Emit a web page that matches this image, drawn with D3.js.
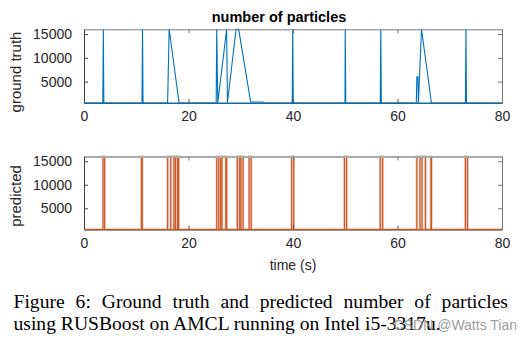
<!DOCTYPE html>
<html>
<head>
<meta charset="utf-8">
<script src="https://cdn.jsdelivr.net/npm/d3@7/dist/d3.min.js"></script>
<style>
  html, body { margin: 0; padding: 0; background: #fff; }
  svg { display: block; }
</style>
</head>
<body>
<svg id="chart" width="532" height="346"></svg>
<script>
// ---------------- data ----------------
const chartTitle = "number of particles";
const xLabel = "time (s)";
const yLabelTop = "ground truth";
const yLabelBottom = "predicted";
const xTicks = [0, 20, 40, 60, 80];
const yTicks = [5000, 10000, 15000];
const xDomain = [0, 80];
const yDomain = [500, 16000];

// ground truth: time (s) and number of particles
const truthTime = [0, 3.6, 3.7, 3.8, 11.1, 11.2, 11.3, 16.0, 16.3, 18.2,
  25.3, 25.4, 25.6, 27.3, 27.45, 29.1, 29.6, 31.9, 34.3, 34.4,
  39.85, 39.95, 40.05, 49.95, 50.0, 50.1, 56.7, 56.8, 56.9,
  63.6, 63.7, 63.9, 64.0, 64.6, 66.5, 73.0, 73.1, 73.2, 80];
const truthValue = [500, 500, 16000, 500, 500, 16000, 500, 500, 16000, 500,
  500, 16000, 500, 16000, 500, 16000, 16000, 700, 700, 500,
  500, 16000, 500, 500, 16000, 500, 500, 16000, 500,
  500, 6000, 6000, 500, 16000, 500, 500, 16000, 500, 500];

// predicted: time (s) and number of particles
const predTime = [0,
  3.65, 3.65, 3.95, 3.95,
  11.0, 11.0, 11.15, 11.15,
  16.0, 16.0, 16.6, 16.6,
  17.2, 17.2, 17.5, 17.5,
  17.9, 17.9, 18.1, 18.1,
  25.4, 25.4, 25.8, 25.8,
  26.15, 26.15, 26.4, 26.4,
  27.15, 27.15, 27.3, 27.3,
  29.35, 29.35, 29.8, 29.8,
  30.05, 30.05, 30.45, 30.45,
  31.6, 31.6, 32.0, 32.0,
  39.75, 39.75, 40.15, 40.15,
  49.85, 49.85, 50.25, 50.25,
  56.7, 56.7, 57.15, 57.15,
  63.7, 63.7, 64.3, 64.3,
  64.7, 64.7, 65.35, 65.35,
  66.4, 66.4, 66.5, 66.5,
  73.0, 73.0, 73.4, 73.4,
  80];
const predValue = [500,
  500, 16000, 16000, 500,
  500, 16000, 16000, 500,
  500, 16000, 16000, 500,
  500, 16000, 16000, 500,
  500, 16000, 16000, 500,
  500, 16000, 16000, 500,
  500, 16000, 16000, 500,
  500, 16000, 16000, 500,
  500, 16000, 16000, 500,
  500, 16000, 16000, 500,
  500, 16000, 16000, 500,
  500, 16000, 16000, 500,
  500, 16000, 16000, 500,
  500, 16000, 16000, 500,
  500, 16000, 16000, 500,
  500, 16000, 16000, 500,
  500, 16000, 16000, 500,
  500, 16000, 16000, 500,
  500];

const captionLines = [
  "Figure 6: Ground truth and predicted number of particles",
  "using RUSBoost on AMCL running on Intel i5-3317u."
];
const watermark = "CSDN @Watts Tian";

// ---------------- drawing ----------------
const svg = d3.select("#chart");
const sans = "'Liberation Sans', Arial, Helvetica, sans-serif";
const serif = "'Liberation Serif', 'Times New Roman', serif";

const plotLeft = 84, plotRight = 502;
const panels = [
  { top: 29.3, bottom: 103, t: truthTime, v: truthValue, color: "#0072BD", label: yLabelTop, labelY: 72, topBorder: "#7a7a7a", topW: 1 },
  { top: 156.5, bottom: 229.5, t: predTime, v: predValue, color: "#D95319", label: yLabelBottom, labelY: 196, topBorder: "#aaaaaa", topW: 2 }
];

const x = d3.scaleLinear().domain(xDomain).range([plotLeft, plotRight]);

panels.forEach((p, i) => {
  const y = d3.scaleLinear().domain(yDomain).range([p.bottom, p.top]);
  const g = svg.append("g");

  // data line
  const pts = p.t.map((t, k) => [t, p.v[k]]);
  const line = d3.line().x(d => x(d[0])).y(d => y(d[1]));
  if (i === 1) {
    g.append("path").datum(pts).attr("d", line)
      .attr("fill", "none").attr("stroke", "#b59a90").attr("stroke-width", 2.4)
      .attr("stroke-opacity", 0.55);
  }
  g.append("path").datum(pts).attr("d", line)
    .attr("fill", "none").attr("stroke", p.color).attr("stroke-width", 1.1)
    .attr("stroke-linejoin", "miter");

  // axes
  const styleAxis = (sel, col) => {
    sel.select(".domain").attr("stroke", col);
    sel.selectAll(".tick line").attr("stroke", col);
    sel.selectAll("text").attr("fill", "#262626").attr("font-family", sans).attr("font-size", 14);
  };
  const ax = g.append("g").attr("transform", `translate(0,${p.bottom})`)
    .call(d3.axisBottom(x).tickValues(xTicks).tickSizeInner(-4).tickSizeOuter(0).tickPadding(8.5).tickFormat(d3.format("d")));
  styleAxis(ax, "#555");
  const axT = g.append("g").attr("transform", `translate(0,${p.top})`)
    .call(d3.axisTop(x).tickValues(xTicks).tickSizeInner(-4).tickSizeOuter(0).tickFormat(""));
  styleAxis(axT, "#777");
  axT.select(".domain").attr("stroke", p.topBorder).attr("stroke-width", p.topW);
  const ay = g.append("g").attr("transform", `translate(${plotLeft},0)`)
    .call(d3.axisLeft(y).tickValues(yTicks).tickSizeInner(-4).tickSizeOuter(0).tickPadding(12).tickFormat(d3.format("d")));
  styleAxis(ay, "#444");
  const ayR = g.append("g").attr("transform", `translate(${plotRight},0)`)
    .call(d3.axisRight(y).tickValues(yTicks).tickSizeInner(-4).tickSizeOuter(0).tickFormat(""));
  styleAxis(ayR, "#777");

  // redraw the series bottom over the axis baseline
  g.append("line").attr("x1", plotLeft).attr("x2", plotRight)
    .attr("y1", y(yDomain[0])).attr("y2", y(yDomain[0]))
    .attr("stroke", p.color).attr("stroke-width", 1.1);

  // y label
  svg.append("text")
    .attr("transform", `translate(21,${p.labelY}) rotate(-90)`)
    .attr("text-anchor", "middle")
    .attr("font-family", sans).attr("font-size", 15).attr("fill", "#262626")
    .text(p.label);
});

// title
svg.append("text").attr("x", 279).attr("y", 22).attr("text-anchor", "middle")
  .attr("font-family", sans).attr("font-size", 14.5).attr("font-weight", "bold")
  .attr("fill", "#000").text(chartTitle);

// x label
svg.append("text").attr("x", 293).attr("y", 270).attr("text-anchor", "middle")
  .attr("font-family", sans).attr("font-size", 14).attr("fill", "#262626").text(xLabel);

// caption
const capX = 13.5, capW = 494.5;
const cap1 = svg.append("text").attr("x", capX).attr("y", 307.5)
  .attr("font-family", serif).attr("font-size", 19.6).attr("fill", "#000")
  .text(captionLines[0]);
const natural = cap1.node().getComputedTextLength();
const spaces = captionLines[0].split(" ").length - 1;
cap1.attr("word-spacing", Math.max(0, (capW - natural) / spaces));
svg.append("text").attr("x", capX).attr("y", 329.5)
  .attr("font-family", serif).attr("font-size", 19.6).attr("fill", "#000")
  .text(captionLines[1]);

// watermark (overlaps the caption's end, as in the source image)
svg.append("text").attr("x", 517).attr("y", 329.5).attr("text-anchor", "end")
  .attr("font-family", sans).attr("font-size", 14).attr("fill", "#8a8a8a")
  .attr("fill-opacity", 0.85).text(watermark);
</script>
</body>
</html>
